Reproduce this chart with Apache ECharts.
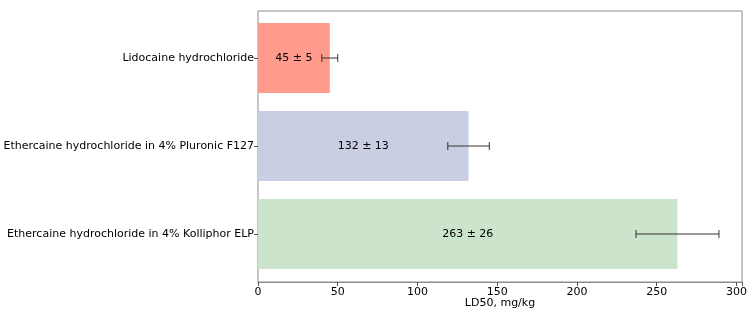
<!DOCTYPE html>
<html>
<head>
<meta charset="utf-8">
<script src="https://cdn.jsdelivr.net/npm/echarts@6/dist/echarts.min.js"></script>
<style>html,body{margin:0;padding:0;background:#fff}#c{width:752px;height:313px}</style>
</head>
<body>
<div id="c"></div>
<script>
const categories = ["Lidocaine hydrochloride", "Ethercaine hydrochloride in 4% Pluronic F127", "Ethercaine hydrochloride in 4% Kolliphor ELP"];
const means = [45, 132, 263];
const errors = [5, 13, 26];
const barColors = ["#FF9B8C", "#CACEE3", "#CBE4CB"];
const xTicks = [0, 50, 100, 150, 200, 250, 300];
const xMax = 303.45;

const font = "'DejaVu Sans'";
const fs = 11;
const chart = echarts.init(document.getElementById('c'), null, {renderer: 'canvas'});
const option = {
  animation: false,
  textStyle: {fontFamily: font},
  grid: [
    {left: 258, right: 10, top: 11, height: 271, show: true, borderColor: '#8c8c8c', borderWidth: 1,
     backgroundColor: 'transparent', outerBoundsMode: 'none', containLabel: false},
    {left: 258, right: 10, top: 14, height: 264, outerBoundsMode: 'none', containLabel: false}
  ],
  xAxis: [
    {type: 'value', gridIndex: 0, min: 0, max: xMax, interval: 50,
     axisLine: {show: true, lineStyle: {color: '#8c8c8c', width: 1}},
     axisTick: {show: true, length: 4, lineStyle: {color: '#555'}},
     splitLine: {show: false},
     axisLabel: {fontSize: fs, color: '#000', margin: 5, fontFamily: font,
       formatter: v => xTicks.includes(v) ? String(v) : ''},
     name: 'LD50, mg/kg', nameLocation: 'middle', nameGap: 16, nameMoveOverlap: false,
     nameTextStyle: {fontSize: fs, color: '#000', fontFamily: font}},
    {type: 'value', gridIndex: 1, min: 0, max: xMax, show: false}
  ],
  yAxis: [
    {type: 'value', gridIndex: 0, show: false, min: 0, max: 1},
    {type: 'category', gridIndex: 1, data: categories, inverse: true,
     axisLine: {show: false},
     axisTick: {show: true, alignWithLabel: true, length: 4, lineStyle: {color: '#555'}},
     axisLabel: {fontSize: fs, color: '#000', margin: 4, fontFamily: font}}
  ],
  series: [
    {type: 'bar', xAxisIndex: 1, yAxisIndex: 1, barWidth: 70, z: 2,
     data: means.map((m, i) => ({value: m, itemStyle: {color: barColors[i]}})),
     label: {show: true, position: 'inside', color: '#000', fontSize: fs, fontFamily: font,
       formatter: p => means[p.dataIndex] + ' ± ' + errors[p.dataIndex]}},
    {type: 'custom', xAxisIndex: 1, yAxisIndex: 1, z: 10,
     data: means.map((m, i) => [m, i, errors[i]]),
     encode: {x: 0, y: 1},
     renderItem: function (params, api) {
       const m = api.value(0), idx = api.value(1), e = api.value(2);
       const a = api.coord([m - e, idx]);
       const b = api.coord([m + e, idx]);
       const h = 4;
       const st = {stroke: '#333', lineWidth: 1};
       return {type: 'group', children: [
         {type: 'line', shape: {x1: a[0], y1: a[1], x2: b[0], y2: b[1]}, style: st},
         {type: 'line', shape: {x1: a[0], y1: a[1] - h, x2: a[0], y2: a[1] + h}, style: st},
         {type: 'line', shape: {x1: b[0], y1: b[1] - h, x2: b[0], y2: b[1] + h}, style: st}
       ]};
     }}
  ]
};
chart.setOption(option);
</script>
</body>
</html>
